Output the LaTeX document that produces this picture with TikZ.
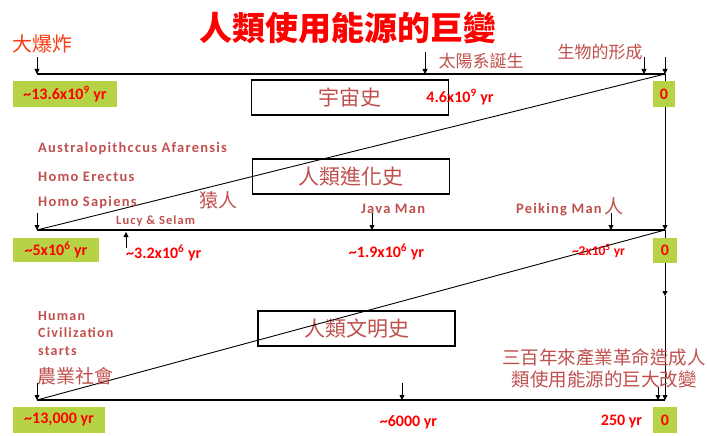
\documentclass[tikz,border=0pt]{standalone}
\usepackage{fontspec}
\setmainfont{Carlito}
\newfontfamily\cjk{Noto Sans CJK TC}
\newfontfamily\spaced[LetterSpace=8.5]{Carlito}
\usetikzlibrary{arrows.meta}
\definecolor{accent}{RGB}{192,80,77}
\definecolor{lime}{RGB}{182,211,69}
\definecolor{orangered}{RGB}{250,60,20}
\begin{document}
\begin{tikzpicture}[x=1pt,y=-1pt,
  tl/.style={line width=2.6pt},
  diag/.style={line width=0.9pt},
  arr/.style={line width=0.8pt,-{Triangle[length=5pt,width=5pt]}},
  hbox/.style={draw,line width=1.2pt,minimum width=197pt,minimum height=35pt,inner sep=0pt,text=accent,font=\cjk\fontsize{21}{21}\selectfont},
  gbox/.style={fill=lime,text=red,font=\bfseries\fontsize{16}{16}\selectfont,inner sep=0pt},
  redlab/.style={text=red,font=\bfseries\fontsize{16}{16}\selectfont,inner sep=0pt},
  enlab/.style={text=accent,anchor=west,inner sep=0pt,font=\spaced\bfseries\fontsize{14.5}{14.5}\selectfont},
  cjklab/.style={text=accent,inner sep=0pt,font=\cjk\fontsize{17}{17}\selectfont}]
\useasboundingbox[fill=white] (0,0) rectangle (707,436);
% timelines
\coordinate (a0) at (37,74); \coordinate (a1) at (665,74);
\coordinate (b0) at (37,230); \coordinate (b1) at (665,230);
\coordinate (c0) at (37,400); \coordinate (c1) at (665,400);
\coordinate (m) at (665,296);
% boxes
\node[hbox] (h1) at (350,97.5) {宇宙史};
\node[hbox] (h2) at (351,176.5) {人類進化史};
\node[hbox] (h3) at (356.5,328.5) {人類文明史};
\draw[tl] (a0) -- (a1);
\draw[tl] (b0) -- (b1);
\draw[tl] (c0) -- (c1);
\draw[diag] (a1) -- (b0);
\draw[diag] (b1) -- (c0);
\draw[arr] (a1) -- (b1);
\draw[arr] (b1) -- (m);
\draw[arr] (m) -- (c1);
% title
\node[text=red,inner sep=0pt,font=\cjk\bfseries\fontsize{33}{33}\selectfont] (title) at (348,28) {人類使用能源的巨變};
% row 1
\node[text=orangered,inner sep=0pt,anchor=west,font=\cjk\fontsize{20}{20}\selectfont] (bb) at (12,44) {大爆炸};
\coordinate (bbs) at (37,57); \draw[arr] (bbs) -- (a0);
\node[cjklab] (sun) at (481,61) {太陽系誕生};
\coordinate (suns) at (425,52); \coordinate (sune) at (425,74); \draw[arr] (suns) -- (sune);
\node[cjklab] (life) at (600,52) {生物的形成};
\coordinate (lifes) at (644,57); \coordinate (lifee) at (644,74); \draw[arr] (lifes) -- (lifee);
\coordinate (zs) at (665,57); \draw[arr] (zs) -- (a1);
\node[gbox,minimum width=104pt,minimum height=26pt] (g1) at (65,94) {\textasciitilde13.6x10\textsuperscript{9} yr};
\node[redlab] (r1) at (460,97) {4.6x10\textsuperscript{9} yr};
\node[gbox,minimum width=22pt,minimum height=26pt] (z1) at (664,94) {0};
% row 2
\node[enlab] (aa) at (38,149) {Australopithccus  Afarensis};
\node[enlab] (he) at (38,177) {Homo Erectus};
\node[enlab] (hs) at (38,203) {Homo Sapiens};
\node[cjklab,font=\cjk\fontsize{19}{19}\selectfont] (yr) at (218,200) {猿人};
\node[enlab,font=\spaced\bfseries\fontsize{12.5}{12.5}\selectfont] (lucy) at (116,221) {Lucy \& Selam};
\coordinate (hss) at (37,213); \draw[arr] (hss) -- (b0);
\coordinate (lus) at (126,248); \coordinate (lue) at (126,232); \draw[arr] (lus) -- (lue);
\node[redlab,anchor=west] (r32) at (126,253) {\textasciitilde3.2x10\textsuperscript{6} yr};
\node[enlab] (java) at (361,209) {Java Man};
\coordinate (jas) at (372,213); \coordinate (jae) at (372,230); \draw[arr] (jas) -- (jae);
\node[enlab] (pk) at (516,207) {Peiking Man\,{\cjk\mdseries\fontsize{19}{19}\selectfont 人}};
\coordinate (pks) at (611,213); \coordinate (pke) at (611,230); \draw[arr] (pks) -- (pke);
\node[redlab] (r19) at (386.5,252) {\textasciitilde1.9x10\textsuperscript{6} yr};
\node[redlab,font=\bfseries\fontsize{13.5}{13.5}\selectfont] (r2) at (598.5,251) {\textasciitilde2x10\textsuperscript{5} yr};
\node[gbox,minimum width=86pt,minimum height=24pt] (g2) at (56,250) {\textasciitilde5x10\textsuperscript{6} yr};
\node[gbox,minimum width=24pt,minimum height=25pt] (z2) at (665,250.5) {0};
% row 3
\node[enlab,align=left,anchor=north west,font=\spaced\bfseries\fontsize{14}{17.5}\selectfont] (hc) at (38,311) {Human\\Civilization\\starts};
\node[cjklab,anchor=west,font=\cjk\fontsize{19}{19}\selectfont] (agri) at (37,376) {農業社會};
\coordinate (ags) at (37,383); \draw[arr] (ags) -- (c0);
\coordinate (sxs) at (402,383); \coordinate (sxe) at (402,400); \draw[arr] (sxs) -- (sxe);
\coordinate (tfs) at (658,387); \coordinate (tfe) at (658,400); \draw[arr] (tfs) -- (tfe);
\node[cjklab,align=center,font=\cjk\fontsize{18.5}{22}\selectfont] (ind) at (604,368) {三百年來產業革命造成人\\類使用能源的巨大改變};
\node[gbox,minimum width=92pt,minimum height=26pt] (g3) at (59,420) {\textasciitilde13,000 yr};
\node[redlab] (r6) at (408.5,422) {\textasciitilde6000 yr};
\node[redlab] (r250) at (621.5,422) {250 yr};
\node[gbox,minimum width=24pt,minimum height=26pt] (z3) at (665,420) {0};
\end{tikzpicture}
\end{document}
